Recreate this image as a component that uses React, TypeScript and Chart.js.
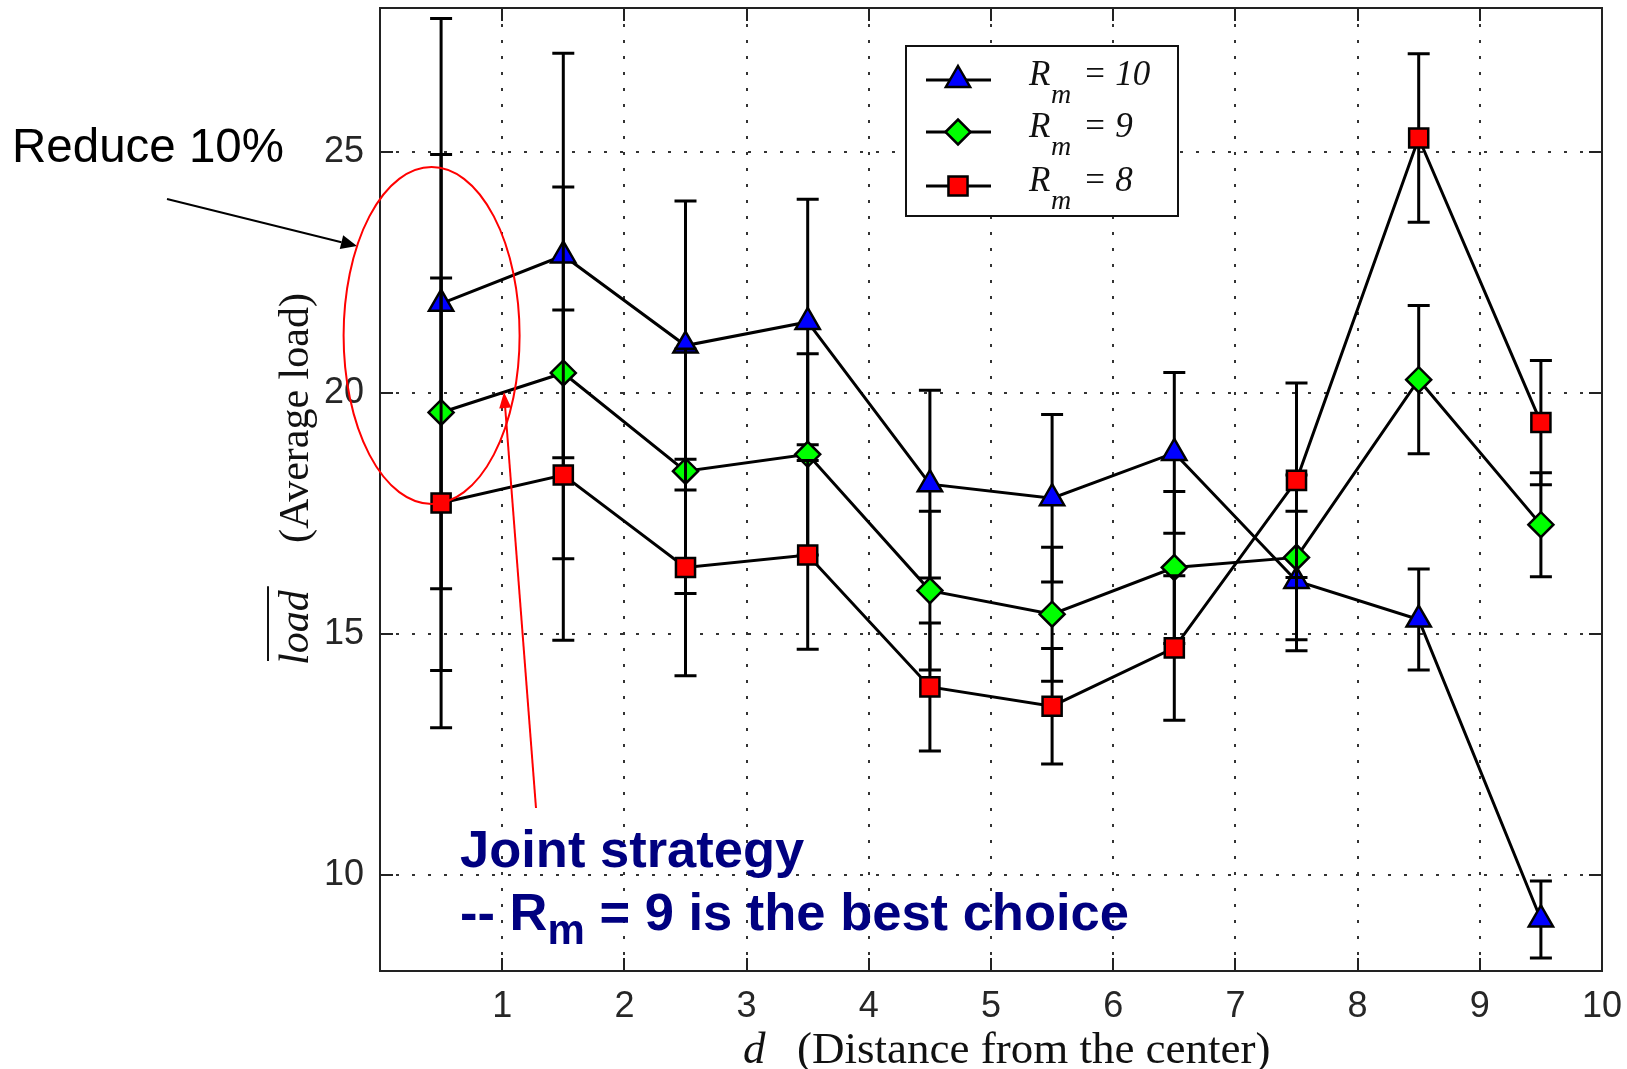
import React, { useEffect, useRef } from 'react';
import { Chart, registerables } from 'chart.js';

Chart.register(...registerables);

// ---- data ----
const distances = [0.5, 1.5, 2.5, 3.5, 4.5, 5.5, 6.5, 7.5, 8.5, 9.5];
const rm10Load = [21.86, 22.86, 20.99, 21.48, 18.11, 17.82, 18.76, 16.1, 15.3, 9.07];
const rm10Err = [5.92, 4.2, 3.0, 2.55, 1.95, 1.74, 1.67, 1.45, 1.05, 0.8];
const rm9Load = [19.6, 20.42, 18.38, 18.73, 15.9, 15.41, 16.38, 16.59, 20.28, 17.27];
const rm9Err = [5.36, 3.86, 2.54, 2.09, 1.65, 1.39, 1.58, 1.71, 1.54, 1.08];
const rm8Load = [17.72, 18.3, 16.38, 16.64, 13.9, 13.5, 14.71, 18.19, 25.3, 19.39];
const rm8Err = [4.67, 3.43, 2.25, 1.96, 1.33, 1.2, 1.5, 2.02, 1.75, 1.29];
const seriesRm = ['10', '9', '8'];
const xTicks = [1, 2, 3, 4, 5, 6, 7, 8, 9, 10];
const yTicks = [10, 15, 20, 25];
const xRange = [0, 10];
const yRange = [8, 28];

const SANS = '"Liberation Sans", Arial, Helvetica, sans-serif';
const SERIF = '"Liberation Serif", "Times New Roman", serif';

const series = [
  { load: rm10Load, err: rm10Err, color: '#0000ff', style: 'triangle', radius: 14, order: 3 },
  { load: rm9Load, err: rm9Err, color: '#00ff00', style: 'rectRot', radius: 12.5, order: 2 },
  { load: rm8Load, err: rm8Err, color: '#ff0000', style: 'rect', radius: 13.5, order: 1 },
];

function drawMarker(ctx: CanvasRenderingContext2D, style: string, x: number, y: number, r: number, fill: string) {
  ctx.beginPath();
  if (style === 'triangle') {
    ctx.moveTo(x, y - r);
    ctx.lineTo(x + 0.866 * r, y + 0.5 * r);
    ctx.lineTo(x - 0.866 * r, y + 0.5 * r);
  } else if (style === 'rectRot') {
    ctx.moveTo(x - r, y);
    ctx.lineTo(x, y - r);
    ctx.lineTo(x + r, y);
    ctx.lineTo(x, y + r);
  } else {
    const s = Math.SQRT1_2 * r;
    ctx.rect(x - s, y - s, 2 * s, 2 * s);
  }
  ctx.closePath();
  ctx.fillStyle = fill;
  ctx.fill();
  ctx.lineWidth = 2.5;
  ctx.strokeStyle = '#000';
  ctx.stroke();
}

function arrow(ctx: CanvasRenderingContext2D, x1: number, y1: number, x2: number, y2: number, color: string, lw: number, headLen: number, headHalf: number) {
  const ang = Math.atan2(y2 - y1, x2 - x1);
  const bx = x2 - headLen * Math.cos(ang);
  const by = y2 - headLen * Math.sin(ang);
  ctx.strokeStyle = color;
  ctx.lineWidth = lw;
  ctx.beginPath();
  ctx.moveTo(x1, y1);
  ctx.lineTo(bx, by);
  ctx.stroke();
  ctx.fillStyle = color;
  ctx.beginPath();
  ctx.moveTo(x2, y2);
  ctx.lineTo(bx + headHalf * Math.sin(ang), by - headHalf * Math.cos(ang));
  ctx.lineTo(bx - headHalf * Math.sin(ang), by + headHalf * Math.cos(ang));
  ctx.closePath();
  ctx.fill();
}

const plotPlugin = {
  id: 'matlabLook',
  beforeDatasetsDraw(chart: any) {
    const { ctx, chartArea: a, scales } = chart;
    const x = scales.x;
    const y = scales.y;
    ctx.save();
    // dotted grid
    ctx.strokeStyle = '#333';
    ctx.lineWidth = 2;
    ctx.setLineDash([3, 13]);
    xTicks.forEach((v) => {
      if (v >= xRange[1]) return;
      const px = Math.round(x.getPixelForValue(v));
      ctx.beginPath();
      ctx.moveTo(px, a.top);
      ctx.lineTo(px, a.bottom);
      ctx.stroke();
    });
    yTicks.forEach((v) => {
      const py = Math.round(y.getPixelForValue(v));
      ctx.beginPath();
      ctx.moveTo(a.left, py);
      ctx.lineTo(a.right, py);
      ctx.stroke();
    });
    ctx.setLineDash([]);
    // inward tick marks on all four sides
    const tl = 13;
    ctx.strokeStyle = '#222';
    ctx.lineWidth = 2;
    xTicks.forEach((v) => {
      const px = Math.round(x.getPixelForValue(v));
      ctx.beginPath();
      ctx.moveTo(px, a.bottom);
      ctx.lineTo(px, a.bottom - tl);
      ctx.moveTo(px, a.top);
      ctx.lineTo(px, a.top + tl);
      ctx.stroke();
    });
    yTicks.forEach((v) => {
      const py = Math.round(y.getPixelForValue(v));
      ctx.beginPath();
      ctx.moveTo(a.left, py);
      ctx.lineTo(a.left + tl, py);
      ctx.moveTo(a.right, py);
      ctx.lineTo(a.right - tl, py);
      ctx.stroke();
    });
    ctx.restore();
  },
  beforeDatasetDraw(chart: any, args: any) {
    const { ctx, scales } = chart;
    const s = series[args.index];
    if (!s) return;
    const x = scales.x;
    const y = scales.y;
    const cap = 11;
    ctx.save();
    ctx.strokeStyle = '#000';
    ctx.lineWidth = 3;
    distances.forEach((d, j) => {
      const px = x.getPixelForValue(d);
      const yt = y.getPixelForValue(s.load[j] + s.err[j]);
      const yb = y.getPixelForValue(s.load[j] - s.err[j]);
      ctx.beginPath();
      ctx.moveTo(px, yt);
      ctx.lineTo(px, yb);
      ctx.moveTo(px - cap, yt);
      ctx.lineTo(px + cap, yt);
      ctx.moveTo(px - cap, yb);
      ctx.lineTo(px + cap, yb);
      ctx.stroke();
    });
    ctx.restore();
  },
  afterDatasetsDraw(chart: any) {
    const { ctx, chartArea: a } = chart;
    ctx.save();
    ctx.strokeStyle = '#222';
    ctx.lineWidth = 2;
    ctx.strokeRect(a.left, a.top, a.right - a.left, a.bottom - a.top);
    ctx.restore();
  },
  afterDraw(chart: any) {
    const { ctx } = chart;
    ctx.save();

    // ---- legend ----
    const lx = 906, ly = 46, lw = 272, lh = 170;
    ctx.fillStyle = '#fff';
    ctx.fillRect(lx, ly, lw, lh);
    ctx.strokeStyle = '#111';
    ctx.lineWidth = 2;
    ctx.strokeRect(lx, ly, lw, lh);
    const rowY = [80, 132, 186];
    series.forEach((s, i) => {
      const yy = rowY[i];
      ctx.strokeStyle = '#000';
      ctx.lineWidth = 3;
      ctx.beginPath();
      ctx.moveTo(926, yy);
      ctx.lineTo(991, yy);
      ctx.stroke();
      drawMarker(ctx, s.style, 958, yy, s.radius, s.color);
      ctx.fillStyle = '#111';
      ctx.textAlign = 'left';
      ctx.textBaseline = 'alphabetic';
      ctx.font = `italic 35px ${SERIF}`;
      ctx.fillText('R', 1029, yy + 5);
      ctx.font = `italic 28px ${SERIF}`;
      ctx.fillText('m', 1051, yy + 23);
      ctx.font = `italic 35px ${SERIF}`;
      ctx.fillText('= ' + seriesRm[i], 1083, yy + 5);
    });

    // ---- y axis title ----
    ctx.save();
    ctx.translate(308, 665);
    ctx.rotate(-Math.PI / 2);
    ctx.fillStyle = '#111';
    ctx.textAlign = 'left';
    ctx.textBaseline = 'alphabetic';
    ctx.font = `italic 42px ${SERIF}`;
    ctx.fillText('load', 0, 0);
    const lwid = ctx.measureText('load').width;
    ctx.strokeStyle = '#111';
    ctx.lineWidth = 2;
    ctx.beginPath();
    ctx.moveTo(4, -40);
    ctx.lineTo(lwid + 4, -40);
    ctx.stroke();
    ctx.font = `42px ${SERIF}`;
    ctx.fillText('(Average load)', 122, 0);
    ctx.restore();

    // ---- x axis title ----
    ctx.fillStyle = '#111';
    ctx.textAlign = 'left';
    ctx.textBaseline = 'alphabetic';
    ctx.font = `italic 45px ${SERIF}`;
    ctx.fillText('d', 743, 1063);
    ctx.font = `45px ${SERIF}`;
    ctx.fillText('(Distance from the center)', 797, 1063);

    // ---- annotations ----
    ctx.font = `47.5px ${SANS}`;
    ctx.fillStyle = '#000';
    ctx.fillText('Reduce 10%', 12, 162);
    arrow(ctx, 167, 199, 357, 246, '#000', 2, 16, 7);

    ctx.strokeStyle = '#ff0000';
    ctx.lineWidth = 2;
    ctx.beginPath();
    ctx.ellipse(431.6, 335.5, 88, 168.5, 0, 0, Math.PI * 2);
    ctx.stroke();
    arrow(ctx, 536, 808, 504, 392, '#ff0000', 2, 16, 6);

    ctx.fillStyle = '#000080';
    ctx.font = `bold 52.5px ${SANS}`;
    ctx.fillText('Joint strategy', 460, 867);
    let tx = 460;
    ctx.fillText('-- R', tx, 930);
    tx += ctx.measureText('-- R').width;
    ctx.font = `bold 42px ${SANS}`;
    ctx.fillText('m', tx, 944);
    tx += ctx.measureText('m').width;
    ctx.font = `bold 52.5px ${SANS}`;
    ctx.fillText(' = 9 is the best choice', tx, 930);

    ctx.restore();
  },
};

export default function App() {
  const canvasRef = useRef<HTMLCanvasElement | null>(null);

  useEffect(() => {
    const canvas = canvasRef.current;
    if (!canvas) return;
    const datasets = series.map((s, i) => ({
      label: 'R_m = ' + seriesRm[i],
      data: distances.map((d, j) => ({ x: d, y: s.load[j] })),
      borderColor: '#000',
      borderWidth: 3,
      backgroundColor: s.color,
      pointStyle: s.style,
      pointRadius: s.radius,
      pointBackgroundColor: s.color,
      pointBorderColor: '#000',
      pointBorderWidth: 2.5,
      tension: 0,
      fill: false,
      order: s.order,
      clip: false as any,
    }));
    const tickFont = { family: SANS, size: 36 };
    const chart = new Chart(canvas, {
      type: 'line',
      data: { datasets },
      options: {
        responsive: false,
        animation: false,
        events: [],
        layout: { autoPadding: false, padding: { left: 0, top: 8, right: 25, bottom: 0 } },
        plugins: { legend: { display: false }, tooltip: { enabled: false } },
        scales: {
          x: {
            type: 'linear',
            min: xRange[0],
            max: xRange[1],
            grid: { display: false },
            border: { display: false },
            afterBuildTicks: (s: any) => {
              s.ticks = xTicks.map((v) => ({ value: v }));
            },
            afterFit: (s: any) => {
              s.height = 98;
              s.paddingLeft = 0;
              s.paddingRight = 0;
            },
            ticks: { font: tickFont, color: '#262626', padding: 6, maxRotation: 0, autoSkip: false },
          },
          y: {
            type: 'linear',
            min: yRange[0],
            max: yRange[1],
            grid: { display: false },
            border: { display: false },
            afterBuildTicks: (s: any) => {
              s.ticks = yTicks.map((v) => ({ value: v }));
            },
            afterFit: (s: any) => {
              s.width = 380;
              s.paddingTop = 0;
              s.paddingBottom = 0;
            },
            ticks: { font: tickFont, color: '#262626', padding: 8, autoSkip: false },
          },
        },
      } as any,
      plugins: [plotPlugin as any],
    });
    return () => chart.destroy();
  }, []);

  return (
    <div style={{ position: 'fixed', left: 0, top: 0, width: 1627, height: 1069, background: '#fff' }}>
      <canvas ref={canvasRef} width={1627} height={1069} style={{ width: 1627, height: 1069, display: 'block' }} />
    </div>
  );
}
